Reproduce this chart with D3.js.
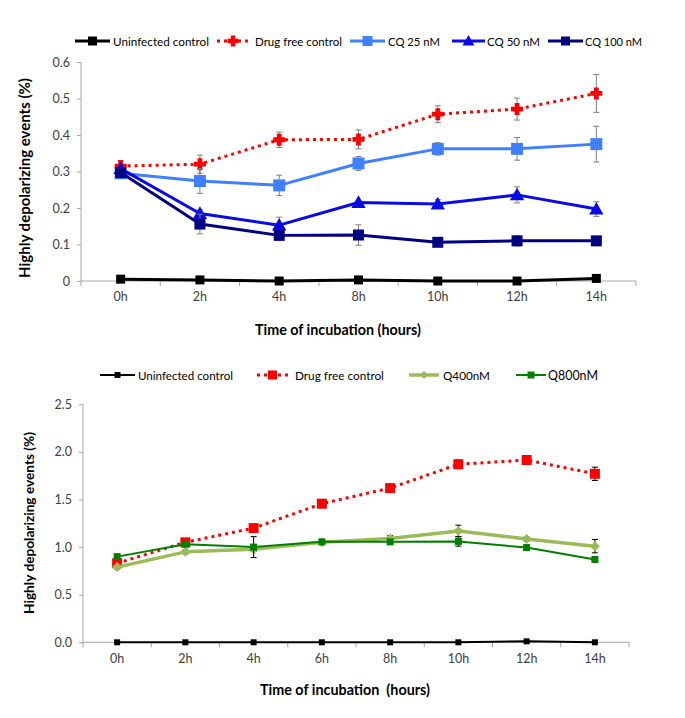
<!DOCTYPE html>
<html><head><meta charset="utf-8">
<script src="https://cdn.jsdelivr.net/npm/d3@7/dist/d3.min.js"></script>
<style>body{margin:0;background:#fff}svg text{font-family:Lato,"Open Sans",sans-serif}</style>
</head><body><svg id="c" width="685" height="718"></svg>
<script>
// ---------- Top panel data ----------
const topCats = ["0h","2h","4h","8h","10h","12h","14h"];
const topUninf = [0.005,0.003,0.0,0.003,0.0,0.0,0.007];
const topUninfErr = [0,0,0,0,0,0,0];
const topDrugFree = [0.315,0.32,0.387,0.388,0.457,0.471,0.514];
const topDrugFreeErr = [0.015,0.025,0.021,0.026,0.023,0.03,0.052];
const topCQ25 = [0.295,0.274,0.262,0.322,0.362,0.362,0.375];
const topCQ25Err = [0.01,0.034,0.028,0.019,0.017,0.031,0.049];
const topCQ50 = [0.308,0.185,0.153,0.215,0.211,0.236,0.197];
const topCQ50Err = [0.006,0.01,0.022,0.005,0.012,0.022,0.02];
const topCQ100 = [0.297,0.156,0.125,0.126,0.106,0.11,0.11];
const topCQ100Err = [0.006,0.027,0.012,0.028,0.01,0.014,0.005];
const topTicks = [0,0.1,0.2,0.3,0.4,0.5,0.6];

// ---------- Bottom panel data ----------
const botCats = ["0h","2h","4h","6h","8h","10h","12h","14h"];
const botUninf = [0.0,0.0,0.0,0.0,0.0,0.0,0.01,0.0];
const botUninfErr = [0,0,0,0,0,0,0,0];
const botDrugFree = [0.83,1.05,1.2,1.456,1.62,1.87,1.915,1.77];
const botDrugFreeErr = [0.02,0.02,0.03,0.02,0.02,0.045,0.02,0.07];
const botQ400 = [0.79,0.95,0.977,1.05,1.09,1.17,1.085,1.01];
const botQ400Err = [0.02,0.02,0.02,0.02,0.03,0.06,0.02,0.07];
const botQ800 = [0.9,1.03,1.0,1.055,1.055,1.06,0.995,0.87];
const botQ800Err = [0.02,0.02,0.11,0.02,0.02,0.05,0.02,0.02];
const botTicks = [0,0.5,1.0,1.5,2.0,2.5];

const svg = d3.select("#c");

function fit(sel, size, target){
  sel.style("font-size", size+"px");
  const len = sel.node().getComputedTextLength();
  if(len>0) sel.style("font-size", (size*target/len).toFixed(2)+"px");
  return sel;
}
function star(s){
  const a=s/2, b=s/5;
  return `M${-b},${-a}L${b},${-a}L${b},${-b}L${a},${-b}L${a},${b}L${b},${b}L${b},${a}L${-b},${a}L${-b},${b}L${-a},${b}L${-a},${-b}L${-b},${-b}Z`;
}
function markerPath(type,s){
  if(type==="square") return `M${-s/2},${-s/2}h${s}v${s}h${-s}Z`;
  if(type==="triangle") return `M0,${-s*0.6}L${s*0.6},${s*0.45}L${-s*0.6},${s*0.45}Z`;
  if(type==="diamond") return `M0,${-s/2}L${s/2},0L0,${s/2}L${-s/2},0Z`;
  if(type==="plus") return star(s);
}

function panel(cfg){
  const {cats, series, ticks, x0, x1, yTop, yBot, yMax, fmt, tickLabelY, xTitle, xTitleX, xTitleY, xTitleW,
         yTitleX, yTitleY, yTitleW, legendY, errColor} = cfg;
  const x = d3.scaleBand().domain(cats).range([x0,x1]).padding(0);
  const y = d3.scaleLinear().domain([0,yMax]).range([yBot,yTop]);
  const g = svg.append("g");
  const ya = g.append("g").attr("transform",`translate(${x0},0)`)
    .call(d3.axisLeft(y).tickValues(ticks).tickFormat(fmt).tickSize(4).tickPadding(7));
  ya.select(".domain").attr("stroke","#a6a6a6").attr("d",`M0,${y(yMax)}V${yBot}`);
  ya.selectAll(".tick line").attr("stroke","#a6a6a6");
  ya.selectAll(".tick text").attr("fill","#404040").style("font-size","12.5px");
  const xa = g.append("g").attr("transform",`translate(0,${yBot})`)
    .call(d3.axisBottom(x).tickSize(0).tickPadding(tickLabelY-yBot));
  xa.select(".domain").attr("stroke","#a6a6a6").attr("d",`M${x0},0H${x1}`);
  xa.selectAll(".tick text").attr("fill","#404040").style("font-size","12.5px");
  const bounds = cats.map((c)=>x(c)).concat([x1]);
  g.append("g").selectAll("line").data(bounds).join("line")
    .attr("x1",d=>d).attr("x2",d=>d).attr("y1",yBot).attr("y2",yBot+5).attr("stroke","#a6a6a6");
  const xt = g.append("text").attr("x",xTitleX).attr("y",xTitleY).attr("text-anchor","middle")
    .style("font-weight","bold").attr("fill","#000").attr("xml:space","preserve").text(xTitle);
  fit(xt, 14, xTitleW);
  const yt = g.append("text").attr("transform",`translate(${yTitleX},${yTitleY}) rotate(-90)`).attr("text-anchor","middle")
    .style("font-weight","bold").attr("fill","#000").text("Highly depolarizing events (%)");
  fit(yt, 14, yTitleW);
  const cx = c => x(c)+x.bandwidth()/2;
  series.forEach(s=>{
    const pts = cats.map((c,i)=>({c, v:s.values[i], e:s.err[i]}));
    const line = d3.line().x(d=>cx(d.c)).y(d=>y(d.v));
    const eg = g.append("g").attr("stroke",errColor).attr("stroke-width",1);
    pts.filter(d=>d.e>0).forEach(d=>{
      const X=cx(d.c);
      eg.append("line").attr("x1",X).attr("x2",X).attr("y1",y(d.v+d.e)).attr("y2",y(d.v-d.e));
      eg.append("line").attr("x1",X-3).attr("x2",X+3).attr("y1",y(d.v+d.e)).attr("y2",y(d.v+d.e));
      eg.append("line").attr("x1",X-3).attr("x2",X+3).attr("y1",y(d.v-d.e)).attr("y2",y(d.v-d.e));
    });
    g.append("path").datum(pts).attr("d",line).attr("fill","none").attr("stroke",s.color)
      .attr("stroke-width",s.width).attr("stroke-dasharray",s.dash||null).attr("stroke-linejoin","round");
    g.append("g").selectAll("path").data(pts).join("path")
      .attr("transform",d=>`translate(${cx(d.c)},${y(d.v)})`)
      .attr("d",markerPath(s.marker,s.msize)).attr("fill",s.mcolor||s.color);
  });
  const lg = g.append("g");
  series.forEach(s=>{
    const [lx0,lx1,tx,tw] = s.leg;
    lg.append("line").attr("x1",lx0).attr("x2",lx1).attr("y1",legendY).attr("y2",legendY)
      .attr("stroke",s.color).attr("stroke-width",s.width).attr("stroke-dasharray",s.dash||null);
    lg.append("path").attr("transform",`translate(${(lx0+lx1)/2},${legendY})`)
      .attr("d",markerPath(s.marker,s.lsize)).attr("fill",s.mcolor||s.color);
    const t = lg.append("text").attr("x",tx).attr("y",legendY+4.5).attr("fill","#000").text(s.name);
    fit(t, 12, tw);
  });
}

panel({
  cats: topCats, ticks: topTicks, x0:81, x1:636, yTop:62, yBot:281, yMax:0.6,
  fmt: d=>d===0?"0":d3.format(".1f")(d), tickLabelY:292,
  xTitle:"Time of incubation (hours)", xTitleX:338, xTitleY:335, xTitleW:166,
  yTitleX:30, yTitleY:178, yTitleW:200,
  legendY:41, errColor:"#7f7f7f",
  series:[
    {name:"Uninfected control", values:topUninf, err:topUninfErr, color:"#000", width:3, marker:"square", msize:9, lsize:9, leg:[75,110,113,96]},
    {name:"Drug free control", values:topDrugFree, err:topDrugFreeErr, color:"#ff0000", width:3, dash:"3,4", marker:"plus", msize:12, lsize:11, leg:[217,249,255,87]},
    {name:"CQ 25 nM", values:topCQ25, err:topCQ25Err, color:"#4080ff", width:3, marker:"square", msize:12, lsize:10, leg:[350,385,388,52]},
    {name:"CQ 50 nM", values:topCQ50, err:topCQ50Err, color:"#0a0ae6", width:3, marker:"triangle", msize:12, lsize:10, leg:[452,485,487,53]},
    {name:"CQ 100 nM", values:topCQ100, err:topCQ100Err, color:"#000080", width:3, marker:"square", msize:11, lsize:9, leg:[548,583,585,57]}
  ]
});

panel({
  cats: botCats, ticks: botTicks, x0:83, x1:629, yTop:404.3, yBot:642.3, yMax:2.5,
  fmt: d3.format(".1f"), tickLabelY:654,
  xTitle:"Time of incubation  (hours)", xTitleX:345, xTitleY:695, xTitleW:170,
  yTitleX:34, yTitleY:523, yTitleW:182,
  legendY:375, errColor:"#000",
  series:[
    {name:"Uninfected control", values:botUninf, err:botUninfErr, color:"#000", width:2, marker:"square", msize:6, lsize:6, leg:[100,135,138,95]},
    {name:"Drug free control", values:botDrugFree, err:botDrugFreeErr, color:"#ff0000", width:3, dash:"3,4", marker:"square", msize:10, lsize:9, leg:[257,288,295,89]},
    {name:"Q400nM", values:botQ400, err:botQ400Err, color:"#9bbb59", width:3.5, marker:"diamond", msize:10, lsize:8, leg:[409,439,443,47]},
    {name:"Q800nM", values:botQ800, err:botQ800Err, color:"#008000", width:2, marker:"square", msize:7, lsize:7, leg:[516,546,548,50]}
  ]
});
</script></body></html>
